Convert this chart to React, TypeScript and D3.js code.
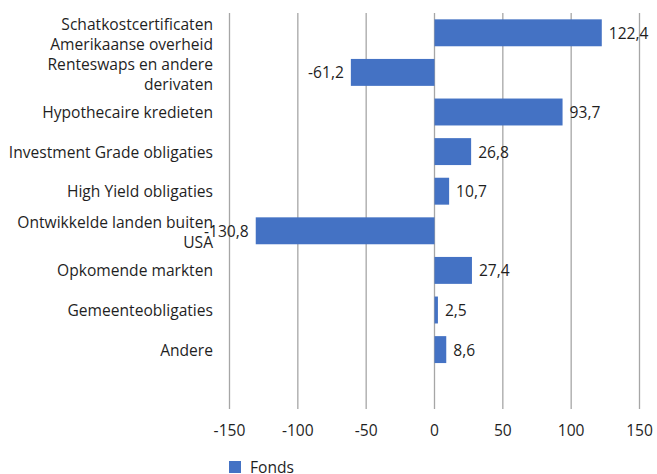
import React from "react";
import * as d3 from "d3";

const categories: string[][] = [
  ["Schatkostcertificaten", "Amerikaanse overheid"],
  ["Renteswaps en andere", "derivaten"],
  ["Hypothecaire kredieten"],
  ["Investment Grade obligaties"],
  ["High Yield obligaties"],
  ["Ontwikkelde landen buiten", "USA"],
  ["Opkomende markten"],
  ["Gemeenteobligaties"],
  ["Andere"],
  [""],
];
const values: (number | null)[] = [122.4, -61.2, 93.7, 26.8, 10.7, -130.8, 27.4, 2.5, 8.6, null];
const valueLabels: string[] = ["122,4", "-61,2", "93,7", "26,8", "10,7", "-130,8", "27,4", "2,5", "8,6", ""];
const ticks: number[] = [-150, -100, -50, 0, 50, 100, 150];
const seriesName = "Fonds";

const W = 657;
const H = 474;
const FONT = "'Open Sans', 'Noto Sans', sans-serif";
const TEXT = "#1f1f1f";
const BLUE = "#4472C4";
const FS = 15.6;

export default function App() {
  const x = d3.scaleLinear().domain([-150, 150]).range([229.5, 639.5]);
  const y = d3
    .scaleBand<number>()
    .domain(categories.map((_, i) => i))
    .range([13, 409])
    .paddingInner(0.32)
    .paddingOuter(0.16);
  return (
    <svg
      width={W}
      height={H}
      style={{ position: "absolute", left: 0, top: 0, background: "#fff" }}
      fontFamily={FONT}
    >
      {ticks.map((t) => (
        <g key={t}>
          <line x1={x(t)} x2={x(t)} y1={13} y2={409} stroke="#a6a6a6" strokeWidth={1.3} />
          <text x={x(t)} y={430} textAnchor="middle" dominantBaseline="central" fontSize={FS} fill={TEXT}>
            {t}
          </text>
        </g>
      ))}
      {values.map((v, i) => {
        if (v == null) return null;
        const y0 = y(i)!;
        const bh = y.bandwidth();
        const x0 = Math.min(x(0), x(v));
        const w = Math.abs(x(v) - x(0));
        const cy = y0 + bh / 2;
        return (
          <g key={i}>
            <rect x={x0} y={y0} width={w} height={bh} fill={BLUE} />
            <text
              x={v >= 0 ? x(v) + 7 : x(v) - 7}
              y={cy}
              textAnchor={v >= 0 ? "start" : "end"}
              dominantBaseline="central"
              fontSize={FS}
              fill={TEXT}
            >
              {valueLabels[i]}
            </text>
          </g>
        );
      })}
      {categories.map((lines, i) => {
        const cy = y(i)! + y.bandwidth() / 2;
        const lh = 20;
        const start = cy - ((lines.length - 1) * lh) / 2 + (lines.length > 1 ? 1.5 : 0);
        return (
          <text key={i} textAnchor="end" fontSize={FS} fill={TEXT}>
            {lines.map((l, j) => (
              <tspan key={j} x={213} y={start + j * lh} dominantBaseline="central">
                {l}
              </tspan>
            ))}
          </text>
        );
      })}
      <rect x={229} y={461} width={12} height={12} fill={BLUE} />
      <text x={250} y={467} dominantBaseline="central" fontSize={FS} fill={TEXT}>
        {seriesName}
      </text>
    </svg>
  );
}
